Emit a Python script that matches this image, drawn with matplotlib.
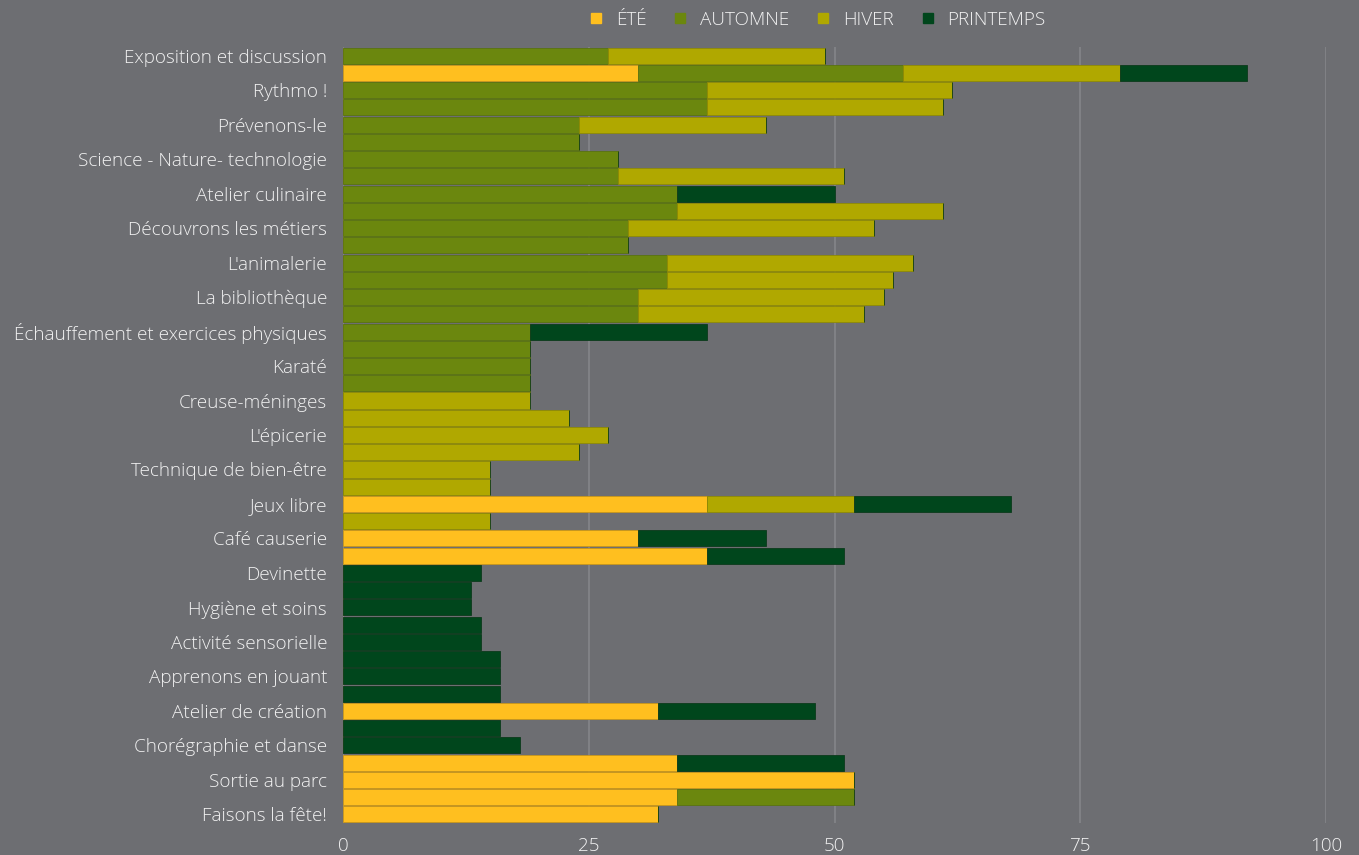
import numpy as np
import matplotlib.pyplot as plt
from matplotlib.lines import Line2D

# 45 rows, only every other label is shown in the reference
categories = [
    "Exposition et discussion", "", "Rythmo !", "", "Prévenons-le", "",
    "Science - Nature- technologie", "", "Atelier culinaire", "",
    "Découvrons les métiers", "", "L'animalerie", "", "La bibliothèque", "",
    "Échauffement et exercices physiques", "", "Karaté", "",
    "Creuse-méninges", "", "L'épicerie", "", "Technique de bien-être", "",
    "Jeux libre", "", "Café causerie", "", "Devinette", "",
    "Hygiène et soins", "", "Activité sensorielle", "",
    "Apprenons en jouant", "", "Atelier de création", "",
    "Chorégraphie et danse", "", "Sortie au parc", "", "Faisons la fête!",
]

ete = [0, 30, 0, 0, 0, 0, 0, 0, 0, 0, 0, 0, 0, 0, 0, 0, 0, 0, 0, 0, 0, 0, 0,
       0, 0, 0, 37, 0, 30, 37, 0, 0, 0, 0, 0, 0, 0, 0, 32, 0, 0, 34, 52, 34, 32]
automne = [27, 27, 37, 37, 24, 24, 28, 28, 34, 34, 29, 29, 33, 33, 30, 30, 19, 19, 19, 19,
           0, 0, 0, 0, 0, 0, 0, 0, 0, 0, 0, 0, 0, 0, 0, 0, 0, 0, 0, 0, 0, 0, 0, 18, 0]
hiver = [22, 22, 25, 24, 19, 0, 0, 23, 0, 27, 25, 0, 25, 23, 25, 23, 0, 0, 0, 0,
         19, 23, 27, 24, 15, 15, 15, 15, 0, 0, 0, 0, 0, 0, 0, 0, 0, 0, 0, 0, 0, 0, 0, 0, 0]
printemps = [0, 13, 0, 0, 0, 0, 0, 0, 16, 0, 0, 0, 0, 0, 0, 0, 18, 0, 0, 0,
             0, 0, 0, 0, 0, 0, 16, 0, 13, 14, 14, 13, 13, 14, 14, 16, 16, 16, 16, 16,
             18, 17, 0, 0, 0]

series = ["ÉTÉ", "AUTOMNE", "HIVER", "PRINTEMPS"]
colors = ["#FFBF1F", "#6B870E", "#B0A800", "#00461C"]
edges = ["#C9961A", "#5A7310", "#8F8A05", "#0C3A1C"]

BG = "#6D6E72"
TXT = "#F2F2F2"
FS = 13.6

plt.rcParams["font.family"] = ["Open Sans", "DejaVu Sans"]

fig = plt.figure(figsize=(13.59, 8.55), dpi=100, facecolor=BG)
ax = fig.add_axes([343 / 1359, 1 - 823 / 855, (1326 - 343) / 1359, (823 - 47) / 855])
ax.set_facecolor(BG)

y = np.arange(len(categories))
left = np.zeros(len(categories))
for vals, name, c, ec in zip([ete, automne, hiver, printemps], series, colors, edges):
    vals = np.array(vals, dtype=float)
    ax.barh(y, vals, left=left, height=0.93, color=c, edgecolor=ec, linewidth=0.6,
            label=name, zorder=3)
    left += vals

ax.set_xlim(0, 100)
ax.set_ylim(len(categories) - 0.5, -0.5)
ax.set_xticks([0, 25, 50, 75, 100])
ax.set_yticks(y)
ax.set_yticklabels(categories)
ax.tick_params(axis="both", length=0, colors=TXT, labelsize=FS)
ax.tick_params(axis="y", pad=11.5)
ax.tick_params(axis="x", pad=10)
for lab in ax.get_xticklabels() + ax.get_yticklabels():
    lab.set_fontweight("light")
ax.grid(axis="x", color="#85868A", linewidth=1.2, zorder=0)
for s in ax.spines.values():
    s.set_visible(False)

handles = [Line2D([], [], marker="s", linestyle="none", markersize=7.5, color=c) for c in colors]
leg = fig.legend(handles, series, loc="center", bbox_to_anchor=(817 / 1359, 1 - 20 / 855),
                 ncol=4, frameon=False, fontsize=FS, handlelength=0.8, handletextpad=0.65,
                 columnspacing=1.4)
for t in leg.get_texts():
    t.set_color(TXT)
    t.set_fontweight("light")

fig.savefig("out.png", dpi=100, facecolor=BG)
